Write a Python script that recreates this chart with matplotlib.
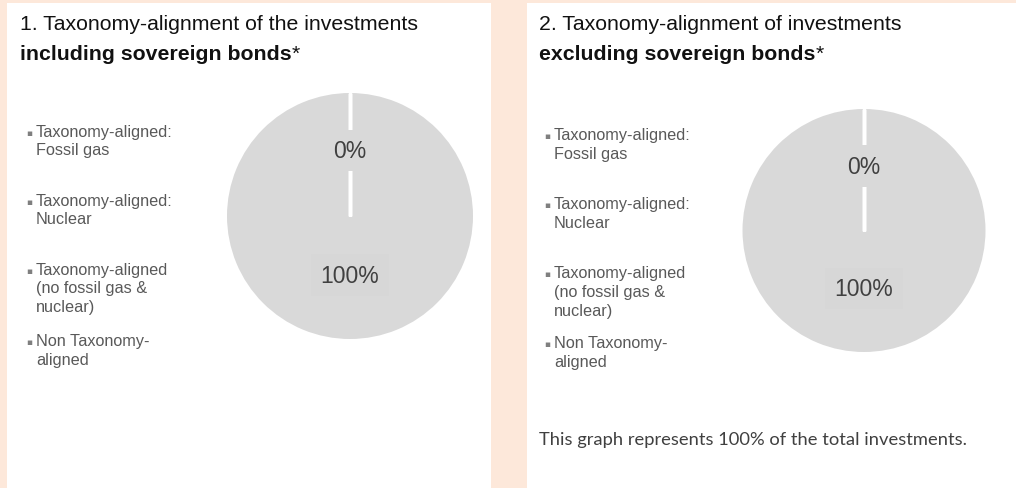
import matplotlib
matplotlib.use("Agg")
import matplotlib.pyplot as plt
import numpy as np
from matplotlib.patches import Rectangle

# ---- data ----
categories = ["Taxonomy-aligned:\nFossil gas",
              "Taxonomy-aligned:\nNuclear",
              "Taxonomy-aligned\n(no fossil gas &\nnuclear)",
              "Non Taxonomy-\naligned"]
values_incl = [0, 0, 0, 100]
values_excl = [0, 0, 0, 100]
title1_line1 = "1. Taxonomy-alignment of the investments"
title1_line2 = "including sovereign bonds"
title2_line1 = "2. Taxonomy-alignment of investments"
title2_line2 = "excluding sovereign bonds"
footnote = "This graph represents 100% of the total investments."

W, H = 1016, 489
DPI = 100
BG = "#fde8da"
PIE = "#d9d9d9"
fig = plt.figure(figsize=(W / DPI, H / DPI), dpi=DPI)
fig.patch.set_facecolor(BG)


def fx(x):
    return x / W


def fy(y):
    return 1 - y / H


# white panels
fig.patches.append(Rectangle((fx(7), fy(489)), fx(491 - 7), (489 - 4) / H,
                             transform=fig.transFigure, facecolor="white",
                             edgecolor="none", zorder=-1))
fig.patches.append(Rectangle((fx(527), fy(489)), fx(1016 - 527), (489 - 4) / H,
                             transform=fig.transFigure, facecolor="white",
                             edgecolor="none", zorder=-1))

SANS = ["Liberation Sans", "DejaVu Sans"]


def panel(x0, tl1, tl2, values, cx, cy, r, leg_x, leg_y0, leg_gap, line_h):
    fig.text(fx(x0), fy(30), tl1, family=SANS, fontsize=15.3, color="#111111",
             va="baseline", ha="left")
    t = fig.text(fx(x0), fy(60), tl2, family=SANS, fontsize=15.3, color="#111111",
                 weight="bold", va="baseline", ha="left")
    fig.canvas.draw()
    bb = t.get_window_extent()
    fig.text(bb.x1 / W, fy(60), "*", family=SANS, fontsize=15.3, color="#111111",
             va="baseline", ha="left")

    # legend
    y = leg_y0
    for lab in categories:
        lines = lab.split("\n")
        fig.text(fx(leg_x - 10), fy(y - 1), "\u25aa", family=["DejaVu Sans"],
                 fontsize=6.5, color="#7f7f7f", va="baseline", ha="left")
        for i, ln in enumerate(lines):
            fig.text(fx(leg_x), fy(y + i * line_h), ln, family=SANS, fontsize=11.7,
                     color="#595959", va="baseline", ha="left")
        y += leg_gap[len(lines)]

    # pie
    ax = fig.add_axes([fx(cx - r), fy(cy + r), 2 * r / W, 2 * r / H])
    ax.set_zorder(3)
    wedges, _ = ax.pie(values, startangle=90, counterclock=False,
                       colors=[PIE] * len(values),
                       wedgeprops=dict(edgecolor="none", linewidth=0))
    # white separators along each wedge boundary
    for w in wedges:
        for ang in (w.theta1, w.theta2):
            a = np.deg2rad(ang)
            ax.plot([w.center[0], w.center[0] + w.r * np.cos(a)],
                    [w.center[1], w.center[1] + w.r * np.sin(a)],
                    color="white", lw=2.3, solid_capstyle="butt", zorder=2)
    ax.set_xlim(-1, 1)
    ax.set_ylim(-1, 1)
    ax.set_aspect("equal")
    ax.axis("off")
    total = sum(values)
    zero_lab = f"{values[0] / total * 100:.0f}%"
    main_lab = f"{values[-1] / total * 100:.0f}%"
    ax.text(0, 0.53, zero_lab, ha="center", va="center", fontsize=16.5,
            family=SANS, color="#404040", zorder=5,
            bbox=dict(boxstyle="square,pad=0.4", facecolor=PIE, edgecolor="none"))
    ax.text(0, -0.48, main_lab, ha="center", va="center", fontsize=16.5,
            family=SANS, color="#404040", zorder=5,
            bbox=dict(boxstyle="square,pad=0.4", facecolor="#d7d7d7", edgecolor="none"))


panel(20, title1_line1, title1_line2, values_incl, 350, 217, 123,
      36, 137, {2: 69, 3: 71}, 18.5)
panel(539, title2_line1, title2_line2, values_excl, 864, 231.5, 121.5,
      554, 140, {2: 69, 3: 70}, 18.8)

fig.text(fx(539), fy(445), footnote, family=["Lato", "DejaVu Sans"], fontsize=13.2,
         color="#404040", va="baseline", ha="left")

fig.savefig("out.png", dpi=DPI, facecolor=BG)
